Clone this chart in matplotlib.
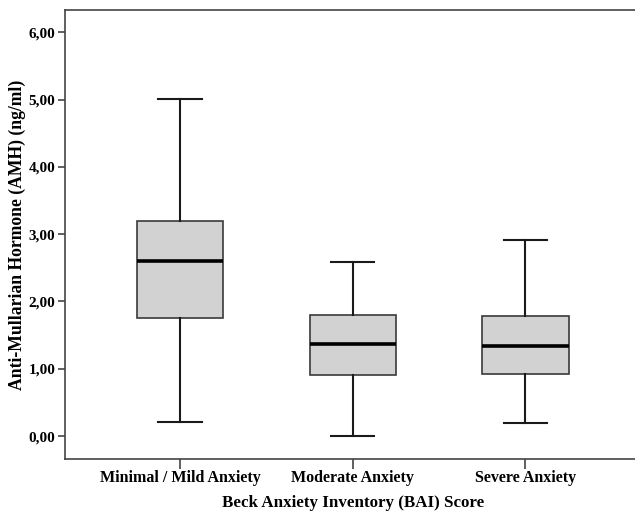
import matplotlib
matplotlib.use("Agg")
import matplotlib.pyplot as plt
from matplotlib.ticker import FuncFormatter

# Values
groups = ["Minimal / Mild Anxiety", "Moderate Anxiety", "Severe Anxiety"]
whisker_low = [0.21, 0.00, 0.19]
q1 = [1.75, 0.91, 0.92]
median = [2.60, 1.37, 1.34]
q3 = [3.20, 1.80, 1.78]
whisker_high = [5.01, 2.58, 2.91]

plt.rcParams["font.family"] = ["Liberation Serif", "DejaVu Serif"]
plt.rcParams["font.weight"] = "bold"

fig = plt.figure(figsize=(6.35, 5.15), dpi=100)
ax = fig.add_axes([65 / 635, (515 - 459) / 515, 575.5 / 635, 449 / 515])

stats = []
for i, g in enumerate(groups):
    stats.append({
        "label": g,
        "whislo": whisker_low[i],
        "q1": q1[i],
        "med": median[i],
        "q3": q3[i],
        "whishi": whisker_high[i],
        "fliers": [],
    })

ax.bxp(
    stats,
    positions=[1, 2, 3],
    widths=0.5,
    patch_artist=True,
    showfliers=False,
    boxprops=dict(facecolor="#d2d2d2", edgecolor="#3a3a3a", linewidth=1.2),
    medianprops=dict(color="black", linewidth=2.6, solid_capstyle="butt"),
    whiskerprops=dict(color="#1a1a1a", linewidth=1.5),
    capprops=dict(color="#1a1a1a", linewidth=1.5),
    capwidths=0.25,
)

ax.set_xlim(0.334, 3.666)
ax.set_ylim(-0.34, 6.33)
ax.set_yticks([0, 1, 2, 3, 4, 5, 6])
ax.yaxis.set_major_formatter(FuncFormatter(lambda v, p: f"{v:.2f}".replace(".", ",")))

for s in ax.spines.values():
    s.set_color("#444444")
    s.set_linewidth(1.2)

ax.tick_params(axis="y", direction="out", length=5, width=1.2, color="#444444",
               labelsize=11, pad=2)
ax.tick_params(axis="x", direction="out", length=7, width=1.2, color="#444444",
               labelsize=11.5, pad=1)
for lbl in ax.get_xticklabels() + ax.get_yticklabels():
    lbl.set_fontweight("bold")

ax.set_xlabel("Beck Anxiety Inventory (BAI) Score", fontsize=12.2, fontweight="bold", va="center")
ax.set_ylabel("Anti-Mullarian Hormone (AMH) (ng/ml)", fontsize=12.7, fontweight="bold", va="center")
ax.xaxis.set_label_coords(0.5, -0.098)
ax.yaxis.set_label_coords(-0.082, 0.5)

fig.savefig("out.png", dpi=100)
